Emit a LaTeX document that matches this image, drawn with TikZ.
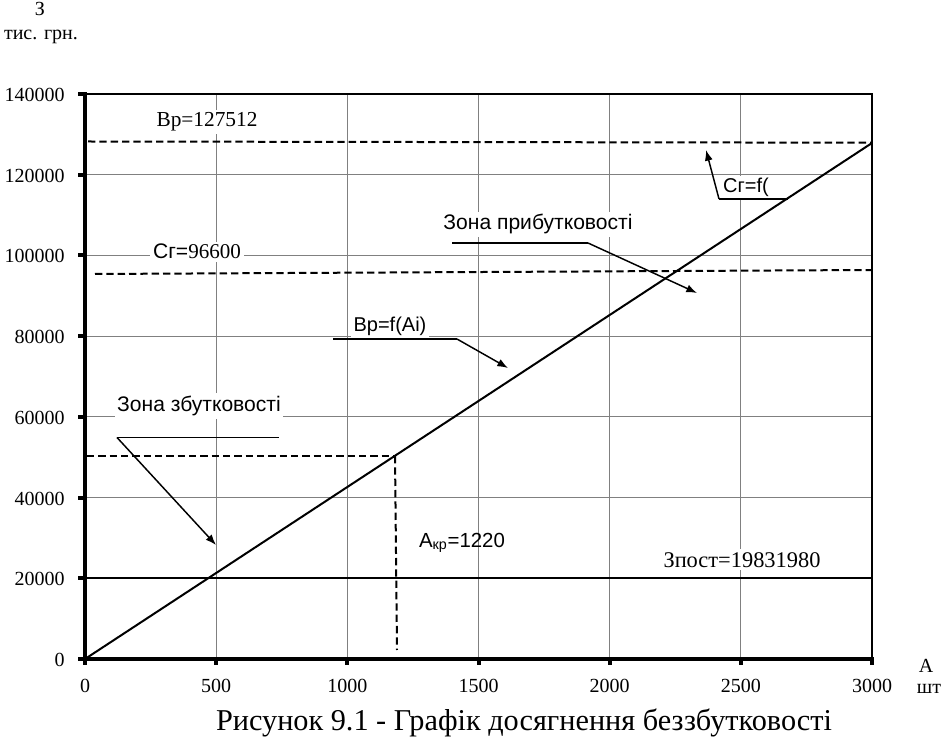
\documentclass[tikz,border=0pt]{standalone}
\usepackage{fontspec}
\setmainfont{Liberation Serif}
\newfontfamily\arialf{Liberation Sans}
\usetikzlibrary{arrows.meta}
\begin{document}
\begin{tikzpicture}[x=0.75pt,y=-0.75pt,
  gridline/.style={draw=black!50, line width=0.75pt},
  axisline/.style={draw=black, line width=3pt},
  frameline/.style={draw=black, line width=1pt},
  tickline/.style={draw=black, line width=3pt},
  dataline/.style={draw=black, line width=1.5pt},
  dashline/.style={draw=black, line width=1.5pt, dash pattern=on 5.5pt off 3pt},
  leader/.style={draw=black, line width=1.2pt},
  pointer/.style={draw=black, line width=1.1pt, -{Latex[length=8pt,width=6pt]}},
  ticklab/.style={font=\fontsize{15}{18}\selectfont, inner sep=0pt},
  serlab/.style={font=\fontsize{16}{19}\selectfont, inner sep=2pt, fill=white, anchor=base},
  sanslab/.style={font=\arialf\fontsize{15.8}{19}\selectfont, inner sep=2pt, fill=white, anchor=base},
  plainlab/.style={font=\fontsize{15}{18}\selectfont, inner sep=0pt, anchor=base},
]
\useasboundingbox[fill=white] (0,0) rectangle (946,737);

% grid
\foreach \gx in {216.2,347.3,478.5,609.7,740.8}
  \draw[gridline] (\gx,94) -- (\gx,659);
\foreach \gy in {578.3,497.6,416.9,336.1,255.4,174.7}
  \draw[gridline] (85,\gy) -- (872,\gy);

% frame
\draw[frameline] (85,94) -- (872,94) -- (872,659);

% labels with white background
\node[serlab] (bplab) at (207,127) {Вр=127512};
\node[sanslab] (cglab) at (197,259) {Сг={\rmfamily 96600}};
\node[sanslab] (zplab) at (538,230) {Зона прибутковості};
\node[sanslab] (zzlab) at (199,411.5) {Зона збутковості};
\node[sanslab, font=\arialf\fontsize{15}{18}\selectfont] (bflab) at (390,332) {Вр=f(Ai)};
\node[sanslab, font=\arialf\fontsize{15}{18}\selectfont] (cflab) at (746,193) {Сг=f(};
\node[serlab, font=\fontsize{16.8}{20}\selectfont] (zpostlab) at (742,567) {Зпост=19831980};
\node[font=\arialf\fontsize{15.3}{18}\selectfont, inner sep=0pt, anchor=base] (akrlab) at (462,547) {А\textsubscript{кр}=1220};

% coordinates
\coordinate (o) at (85,659);
\coordinate (bpend) at (872,143);
\coordinate (bpl) at (88,141.5);
\coordinate (bpr) at (872,142.7);
\coordinate (cgl) at (95,274);
\coordinate (cgr) at (872,270);
\coordinate (fcl) at (85,578.3);
\coordinate (fcr) at (872,578.3);
\coordinate (bel) at (87,456);
\coordinate (be) at (395,456);
\coordinate (bed) at (397,650);

% data lines
\draw[dashline] (bpl) -- (bpr);
\draw[dashline] (cgl) -- (cgr);
\draw[dataline] (fcl) -- (fcr);
\draw[dataline] (o) -- (bpend);
\draw[dashline] (bel) -- (be);
\draw[dashline] (be) -- (bed);

% annotation leaders
\coordinate (zzu1) at (117,437.5);
\coordinate (zzu2) at (279,437.5);
\coordinate (zzt) at (216,545);
\draw[leader] (zzu1) -- (zzu2);
\draw[pointer] (zzu1) -- (zzt);

\coordinate (bfu1) at (333,339);
\coordinate (bfu2) at (457,339);
\coordinate (bft) at (508,368);
\draw[leader] (bfu1) -- (bfu2);
\draw[pointer] (bfu2) -- (bft);

\coordinate (zpu1) at (452,243);
\coordinate (zpu2) at (588,243);
\coordinate (zpt) at (697,293);
\draw[leader] (zpu1) -- (zpu2);
\draw[pointer] (zpu2) -- (zpt);

\coordinate (cfu1) at (719,199);
\coordinate (cfu2) at (788,199);
\coordinate (cft) at (706,150);
\draw[leader] (cfu1) -- (cfu2);
\draw[pointer] (cfu1) -- (cft);

% axes
\draw[axisline] (85,92.5) -- (85,660.5);
\draw[axisline] (83.5,659) -- (873.5,659);
\foreach \ty in {94,174.7,255.4,336.1,416.9,497.6,578.3,659}
  \draw[tickline] (78,\ty) -- (85,\ty);
\foreach \tx in {85,216.2,347.3,478.5,609.7,740.8,872}
  \draw[tickline] (\tx,659) -- (\tx,665);

% tick labels
\foreach \ty/\tl in {94/140000,174.7/120000,255.4/100000,336.1/80000,416.9/60000,497.6/40000,578.3/20000,659/0}
  \node[ticklab, anchor=base east] at (65,\ty+7.5) {\tl};
\foreach \tx/\tl in {85/0,216.2/500,347.3/1000,478.5/1500,609.7/2000,740.8/2500,872/3000}
  \node[ticklab, anchor=base] at (\tx,692) {\tl};

% axis titles
\node[plainlab] (ztitle) at (40,15.5) {З};
\node[plainlab] (ytitle) at (41,40) {тис. грн.};
\node[plainlab] (atitle) at (926,672) {А};
\node[plainlab] (shtitle) at (929,693) {шт};

% caption
\node[font=\fontsize{22.7}{26}\selectfont, inner sep=0pt, anchor=base] (caption) at (524,730) {Рисунок 9.1 - Графік досягнення беззбутковості};
\end{tikzpicture}
\end{document}
